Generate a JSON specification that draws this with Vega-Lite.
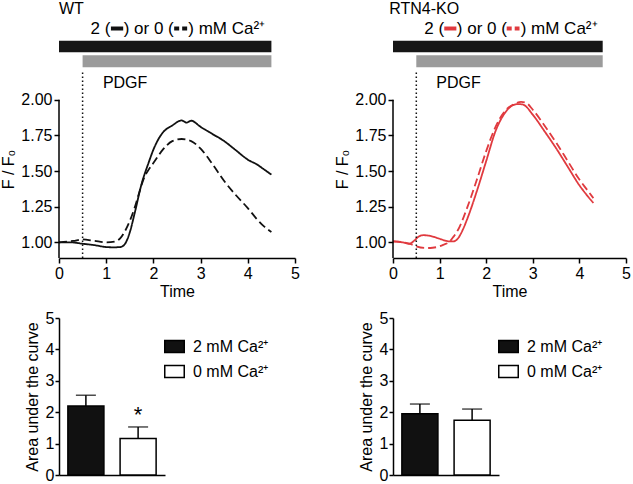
{
  "$schema": "https://vega.github.io/schema/vega-lite/v6.json",
  "background": "white",
  "padding": {"left": 0, "top": 0, "right": 0, "bottom": 3},
  "config": {
    "font": "Liberation Sans",
    "view": {"stroke": null},
    "axis": {"grid": false, "domainColor": "black", "domainWidth": 1.5, "tickColor": "black", "tickWidth": 1.5, "labelColor": "black", "titleColor": "black", "labelFontSize": 16, "titleFontSize": 16, "titleFontWeight": "normal", "labelFont": "Liberation Sans", "titleFont": "Liberation Sans", "labelOverlap": false},
    "legend": {"labelFont": "Liberation Sans"},
    "text": {"font": "Liberation Sans"}
  },
  "datasets": {
    "traces": [
      {"genotype": "WT", "calcium": "2 mM", "time": 0, "ratio": 1.0},
      {"genotype": "WT", "calcium": "2 mM", "time": 0.25, "ratio": 1.0},
      {"genotype": "WT", "calcium": "2 mM", "time": 0.5, "ratio": 0.99},
      {"genotype": "WT", "calcium": "2 mM", "time": 0.75, "ratio": 0.98},
      {"genotype": "WT", "calcium": "2 mM", "time": 1.0, "ratio": 0.967},
      {"genotype": "WT", "calcium": "2 mM", "time": 1.15, "ratio": 0.965},
      {"genotype": "WT", "calcium": "2 mM", "time": 1.3, "ratio": 0.967},
      {"genotype": "WT", "calcium": "2 mM", "time": 1.4, "ratio": 0.99},
      {"genotype": "WT", "calcium": "2 mM", "time": 1.5, "ratio": 1.07},
      {"genotype": "WT", "calcium": "2 mM", "time": 1.6, "ratio": 1.2},
      {"genotype": "WT", "calcium": "2 mM", "time": 1.75, "ratio": 1.41},
      {"genotype": "WT", "calcium": "2 mM", "time": 1.9, "ratio": 1.56},
      {"genotype": "WT", "calcium": "2 mM", "time": 2.0, "ratio": 1.65},
      {"genotype": "WT", "calcium": "2 mM", "time": 2.1, "ratio": 1.72},
      {"genotype": "WT", "calcium": "2 mM", "time": 2.2, "ratio": 1.77},
      {"genotype": "WT", "calcium": "2 mM", "time": 2.4, "ratio": 1.82},
      {"genotype": "WT", "calcium": "2 mM", "time": 2.6, "ratio": 1.855},
      {"genotype": "WT", "calcium": "2 mM", "time": 2.7, "ratio": 1.84},
      {"genotype": "WT", "calcium": "2 mM", "time": 2.8, "ratio": 1.853},
      {"genotype": "WT", "calcium": "2 mM", "time": 3.0, "ratio": 1.81},
      {"genotype": "WT", "calcium": "2 mM", "time": 3.25, "ratio": 1.76},
      {"genotype": "WT", "calcium": "2 mM", "time": 3.5, "ratio": 1.71},
      {"genotype": "WT", "calcium": "2 mM", "time": 3.75, "ratio": 1.645},
      {"genotype": "WT", "calcium": "2 mM", "time": 4.0, "ratio": 1.58},
      {"genotype": "WT", "calcium": "2 mM", "time": 4.2, "ratio": 1.545},
      {"genotype": "WT", "calcium": "2 mM", "time": 4.35, "ratio": 1.51},
      {"genotype": "WT", "calcium": "2 mM", "time": 4.5, "ratio": 1.475},
      {"genotype": "WT", "calcium": "0 mM", "time": 0, "ratio": 1.0},
      {"genotype": "WT", "calcium": "0 mM", "time": 0.3, "ratio": 1.01},
      {"genotype": "WT", "calcium": "0 mM", "time": 0.5, "ratio": 1.02},
      {"genotype": "WT", "calcium": "0 mM", "time": 0.75, "ratio": 1.01},
      {"genotype": "WT", "calcium": "0 mM", "time": 1.0, "ratio": 1.0},
      {"genotype": "WT", "calcium": "0 mM", "time": 1.2, "ratio": 1.007},
      {"genotype": "WT", "calcium": "0 mM", "time": 1.3, "ratio": 1.03},
      {"genotype": "WT", "calcium": "0 mM", "time": 1.4, "ratio": 1.08},
      {"genotype": "WT", "calcium": "0 mM", "time": 1.5, "ratio": 1.15},
      {"genotype": "WT", "calcium": "0 mM", "time": 1.6, "ratio": 1.24},
      {"genotype": "WT", "calcium": "0 mM", "time": 1.7, "ratio": 1.35},
      {"genotype": "WT", "calcium": "0 mM", "time": 1.8, "ratio": 1.45},
      {"genotype": "WT", "calcium": "0 mM", "time": 1.9, "ratio": 1.51},
      {"genotype": "WT", "calcium": "0 mM", "time": 2.0, "ratio": 1.556},
      {"genotype": "WT", "calcium": "0 mM", "time": 2.2, "ratio": 1.65},
      {"genotype": "WT", "calcium": "0 mM", "time": 2.4, "ratio": 1.71},
      {"genotype": "WT", "calcium": "0 mM", "time": 2.6, "ratio": 1.725},
      {"genotype": "WT", "calcium": "0 mM", "time": 2.8, "ratio": 1.71},
      {"genotype": "WT", "calcium": "0 mM", "time": 3.0, "ratio": 1.657},
      {"genotype": "WT", "calcium": "0 mM", "time": 3.25, "ratio": 1.55},
      {"genotype": "WT", "calcium": "0 mM", "time": 3.5, "ratio": 1.43},
      {"genotype": "WT", "calcium": "0 mM", "time": 3.75, "ratio": 1.33},
      {"genotype": "WT", "calcium": "0 mM", "time": 4.0, "ratio": 1.24},
      {"genotype": "WT", "calcium": "0 mM", "time": 4.2, "ratio": 1.16},
      {"genotype": "WT", "calcium": "0 mM", "time": 4.35, "ratio": 1.11},
      {"genotype": "WT", "calcium": "0 mM", "time": 4.5, "ratio": 1.072},
      {"genotype": "RTN4-KO", "calcium": "2 mM", "time": 0, "ratio": 1.007},
      {"genotype": "RTN4-KO", "calcium": "2 mM", "time": 0.2, "ratio": 1.0},
      {"genotype": "RTN4-KO", "calcium": "2 mM", "time": 0.35, "ratio": 0.99},
      {"genotype": "RTN4-KO", "calcium": "2 mM", "time": 0.45, "ratio": 1.01},
      {"genotype": "RTN4-KO", "calcium": "2 mM", "time": 0.55, "ratio": 1.04},
      {"genotype": "RTN4-KO", "calcium": "2 mM", "time": 0.65, "ratio": 1.05},
      {"genotype": "RTN4-KO", "calcium": "2 mM", "time": 0.8, "ratio": 1.045},
      {"genotype": "RTN4-KO", "calcium": "2 mM", "time": 1.0, "ratio": 1.025},
      {"genotype": "RTN4-KO", "calcium": "2 mM", "time": 1.2, "ratio": 1.007},
      {"genotype": "RTN4-KO", "calcium": "2 mM", "time": 1.3, "ratio": 1.007},
      {"genotype": "RTN4-KO", "calcium": "2 mM", "time": 1.4, "ratio": 1.03},
      {"genotype": "RTN4-KO", "calcium": "2 mM", "time": 1.5, "ratio": 1.09},
      {"genotype": "RTN4-KO", "calcium": "2 mM", "time": 1.6, "ratio": 1.17},
      {"genotype": "RTN4-KO", "calcium": "2 mM", "time": 1.8, "ratio": 1.36},
      {"genotype": "RTN4-KO", "calcium": "2 mM", "time": 2.0, "ratio": 1.57},
      {"genotype": "RTN4-KO", "calcium": "2 mM", "time": 2.2, "ratio": 1.78},
      {"genotype": "RTN4-KO", "calcium": "2 mM", "time": 2.4, "ratio": 1.907},
      {"genotype": "RTN4-KO", "calcium": "2 mM", "time": 2.5, "ratio": 1.945},
      {"genotype": "RTN4-KO", "calcium": "2 mM", "time": 2.6, "ratio": 1.965},
      {"genotype": "RTN4-KO", "calcium": "2 mM", "time": 2.7, "ratio": 1.97},
      {"genotype": "RTN4-KO", "calcium": "2 mM", "time": 2.8, "ratio": 1.965},
      {"genotype": "RTN4-KO", "calcium": "2 mM", "time": 3.0, "ratio": 1.895},
      {"genotype": "RTN4-KO", "calcium": "2 mM", "time": 3.25, "ratio": 1.78},
      {"genotype": "RTN4-KO", "calcium": "2 mM", "time": 3.5, "ratio": 1.66},
      {"genotype": "RTN4-KO", "calcium": "2 mM", "time": 3.75, "ratio": 1.53},
      {"genotype": "RTN4-KO", "calcium": "2 mM", "time": 4.0, "ratio": 1.4},
      {"genotype": "RTN4-KO", "calcium": "2 mM", "time": 4.15, "ratio": 1.335},
      {"genotype": "RTN4-KO", "calcium": "2 mM", "time": 4.3, "ratio": 1.276},
      {"genotype": "RTN4-KO", "calcium": "0 mM", "time": 0, "ratio": 1.007},
      {"genotype": "RTN4-KO", "calcium": "0 mM", "time": 0.3, "ratio": 0.995},
      {"genotype": "RTN4-KO", "calcium": "0 mM", "time": 0.4, "ratio": 0.985},
      {"genotype": "RTN4-KO", "calcium": "0 mM", "time": 0.5, "ratio": 0.972},
      {"genotype": "RTN4-KO", "calcium": "0 mM", "time": 0.7, "ratio": 0.96},
      {"genotype": "RTN4-KO", "calcium": "0 mM", "time": 0.85, "ratio": 0.962},
      {"genotype": "RTN4-KO", "calcium": "0 mM", "time": 1.0, "ratio": 0.972},
      {"genotype": "RTN4-KO", "calcium": "0 mM", "time": 1.1, "ratio": 0.985},
      {"genotype": "RTN4-KO", "calcium": "0 mM", "time": 1.2, "ratio": 1.0},
      {"genotype": "RTN4-KO", "calcium": "0 mM", "time": 1.3, "ratio": 1.04},
      {"genotype": "RTN4-KO", "calcium": "0 mM", "time": 1.4, "ratio": 1.09},
      {"genotype": "RTN4-KO", "calcium": "0 mM", "time": 1.6, "ratio": 1.25},
      {"genotype": "RTN4-KO", "calcium": "0 mM", "time": 1.8, "ratio": 1.44},
      {"genotype": "RTN4-KO", "calcium": "0 mM", "time": 2.0, "ratio": 1.64},
      {"genotype": "RTN4-KO", "calcium": "0 mM", "time": 2.2, "ratio": 1.81},
      {"genotype": "RTN4-KO", "calcium": "0 mM", "time": 2.4, "ratio": 1.92},
      {"genotype": "RTN4-KO", "calcium": "0 mM", "time": 2.6, "ratio": 1.97},
      {"genotype": "RTN4-KO", "calcium": "0 mM", "time": 2.75, "ratio": 1.985},
      {"genotype": "RTN4-KO", "calcium": "0 mM", "time": 2.85, "ratio": 1.98},
      {"genotype": "RTN4-KO", "calcium": "0 mM", "time": 3.0, "ratio": 1.93},
      {"genotype": "RTN4-KO", "calcium": "0 mM", "time": 3.25, "ratio": 1.82},
      {"genotype": "RTN4-KO", "calcium": "0 mM", "time": 3.5, "ratio": 1.7},
      {"genotype": "RTN4-KO", "calcium": "0 mM", "time": 3.75, "ratio": 1.57},
      {"genotype": "RTN4-KO", "calcium": "0 mM", "time": 4.0, "ratio": 1.44},
      {"genotype": "RTN4-KO", "calcium": "0 mM", "time": 4.15, "ratio": 1.375},
      {"genotype": "RTN4-KO", "calcium": "0 mM", "time": 4.3, "ratio": 1.31}
    ],
    "auc": [
      {"genotype": "WT", "calcium": "2 mM Ca²⁺", "mean": 2.2, "upper": 2.54, "sig": ""},
      {"genotype": "WT", "calcium": "0 mM Ca²⁺", "mean": 1.16, "upper": 1.53, "sig": "*"},
      {"genotype": "RTN4-KO", "calcium": "2 mM Ca²⁺", "mean": 1.95, "upper": 2.26, "sig": ""},
      {"genotype": "RTN4-KO", "calcium": "0 mM Ca²⁺", "mean": 1.74, "upper": 2.1, "sig": ""}
    ],
    "periods": [
      {"genotype": "WT", "phase": "Ca", "start": 0, "end": 4.5},
      {"genotype": "WT", "phase": "PDGF", "start": 0.5, "end": 4.5},
      {"genotype": "RTN4-KO", "phase": "Ca", "start": 0, "end": 4.5},
      {"genotype": "RTN4-KO", "phase": "PDGF", "start": 0.5, "end": 4.5}
    ],
    "notes": [
      {"genotype": "WT", "key": "title", "text": "WT"},
      {"genotype": "WT", "key": "a", "text": "2 ("},
      {"genotype": "WT", "key": "b", "text": ") or 0 ("},
      {"genotype": "WT", "key": "c", "text": ") mM Ca²⁺"},
      {"genotype": "WT", "key": "pdgf", "text": "PDGF"},
      {"genotype": "RTN4-KO", "key": "title", "text": "RTN4-KO"},
      {"genotype": "RTN4-KO", "key": "a", "text": "2 ("},
      {"genotype": "RTN4-KO", "key": "b", "text": ") or 0 ("},
      {"genotype": "RTN4-KO", "key": "c", "text": ") mM Ca²⁺"},
      {"genotype": "RTN4-KO", "key": "pdgf", "text": "PDGF"}
    ]
  },
  "columns": 2,
  "bounds": "flush",
  "spacing": {"row": 60, "column": 98},
  "resolve": {"scale": {"x": "independent", "y": "independent", "fill": "independent", "strokeDash": "independent"}},
  "concat": [
    {
      "width": 236,
      "height": 258,
      "layer": [
        {
          "data": {"name": "traces"},
          "transform": [{"filter": "datum.genotype === 'WT'"}],
          "mark": {"type": "line", "interpolate": "monotone", "strokeWidth": 1.8, "color": "#111111"},
          "encoding": {
            "x": {"field": "time", "type": "quantitative", "title": "Time", "scale": {"domain": [0, 5], "nice": false}, "axis": {"values": [0, 1, 2, 3, 4, 5], "titlePadding": 2, "tickSize": 5, "labelPadding": 2, "labelFlush": false}},
            "y": {"field": "ratio", "type": "quantitative", "title": "F / F₀", "scale": {"domain": [0.89, 2.7], "nice": false, "zero": false}, "axis": {"values": [1, 1.25, 1.5, 1.75, 2], "format": ".2f", "domain": false, "titleY": 169, "titlePadding": 4, "tickSize": 5, "labelPadding": 2, "titleColor": "black"}},
            "strokeDash": {"field": "calcium", "type": "nominal", "scale": {"domain": ["2 mM", "0 mM"], "range": [[1, 0], [8, 4]]}, "legend": null}
          }
        },
        {
          "data": {"name": "notes"},
          "transform": [{"filter": "datum.genotype === 'WT' && datum.key === 'title'"}],
          "mark": {"type": "rule", "color": "black", "strokeWidth": 1.5},
          "encoding": {"x": {"datum": 0}, "y": {"datum": 0.89}, "y2": {"datum": 2.0}}
        },
        {
          "data": {"name": "periods"},
          "transform": [{"filter": "datum.genotype === 'WT' && datum.phase === 'Ca'"}],
          "mark": {"type": "rect", "color": "#161616"},
          "encoding": {"x": {"field": "start", "type": "quantitative", "title": "Time"}, "x2": {"field": "end"}, "y": {"datum": 2.333}, "y2": {"datum": 2.414}}
        },
        {
          "data": {"name": "periods"},
          "transform": [{"filter": "datum.genotype === 'WT' && datum.phase === 'PDGF'"}],
          "mark": {"type": "rect", "color": "#9b9b9b"},
          "encoding": {"x": {"field": "start", "type": "quantitative", "title": "Time"}, "x2": {"field": "end"}, "y": {"datum": 2.229}, "y2": {"datum": 2.312}}
        },
        {
          "data": {"name": "periods"},
          "transform": [{"filter": "datum.genotype === 'WT' && datum.phase === 'PDGF'"}],
          "mark": {"type": "rule", "color": "#111111", "strokeWidth": 1.5, "strokeDash": [1.5, 2.5]},
          "encoding": {"x": {"field": "start", "type": "quantitative", "title": "Time"}, "y": {"datum": 0.89}, "y2": {"datum": 2.2}}
        },
        {
          "data": {"name": "notes"},
          "transform": [{"filter": "datum.genotype === 'WT' && datum.key === 'title'"}],
          "mark": {"type": "text", "align": "left", "baseline": "middle", "fontSize": 16, "color": "black"},
          "encoding": {"x": {"datum": 0}, "y": {"datum": 2.635}, "text": {"field": "text"}}
        },
        {
          "data": {"name": "notes"},
          "transform": [{"filter": "datum.genotype === 'WT' && datum.key === 'a'"}],
          "mark": {"type": "text", "align": "left", "baseline": "middle", "fontSize": 17, "color": "black"},
          "encoding": {"x": {"datum": 0.67}, "y": {"datum": 2.5}, "text": {"field": "text"}}
        },
        {
          "data": {"name": "notes"},
          "transform": [{"filter": "datum.genotype === 'WT' && datum.key === 'b'"}],
          "mark": {"type": "text", "align": "left", "baseline": "middle", "fontSize": 17, "color": "black"},
          "encoding": {"x": {"datum": 1.37}, "y": {"datum": 2.5}, "text": {"field": "text"}}
        },
        {
          "data": {"name": "notes"},
          "transform": [{"filter": "datum.genotype === 'WT' && datum.key === 'c'"}],
          "mark": {"type": "text", "align": "left", "baseline": "middle", "fontSize": 17, "color": "black"},
          "encoding": {"x": {"datum": 2.74}, "y": {"datum": 2.5}, "text": {"field": "text"}}
        },
        {
          "data": {"name": "notes"},
          "transform": [{"filter": "datum.genotype === 'WT' && datum.key === 'a'"}],
          "mark": {"type": "rule", "color": "#111111", "strokeWidth": 4},
          "encoding": {"x": {"datum": 1.1}, "x2": {"datum": 1.36}, "y": {"datum": 2.5}}
        },
        {
          "data": {"name": "notes"},
          "transform": [{"filter": "datum.genotype === 'WT' && datum.key === 'b'"}],
          "mark": {"type": "rule", "color": "#111111", "strokeWidth": 4, "strokeDash": [5, 3]},
          "encoding": {"x": {"datum": 2.44}, "x2": {"datum": 2.715}, "y": {"datum": 2.5}}
        },
        {
          "data": {"name": "notes"},
          "transform": [{"filter": "datum.genotype === 'WT' && datum.key === 'pdgf'"}],
          "mark": {"type": "text", "align": "left", "baseline": "middle", "fontSize": 16, "color": "black"},
          "encoding": {"x": {"datum": 0.93}, "y": {"datum": 2.117}, "text": {"field": "text"}}
        }
      ]
    },
    {
      "width": 233,
      "height": 258,
      "layer": [
        {
          "data": {"name": "traces"},
          "transform": [{"filter": "datum.genotype === 'RTN4-KO'"}],
          "mark": {"type": "line", "interpolate": "monotone", "strokeWidth": 1.8, "color": "#e03a3f"},
          "encoding": {
            "x": {"field": "time", "type": "quantitative", "title": "Time", "scale": {"domain": [0, 5], "nice": false}, "axis": {"values": [0, 1, 2, 3, 4, 5], "titlePadding": 2, "tickSize": 5, "labelPadding": 2, "labelFlush": false}},
            "y": {"field": "ratio", "type": "quantitative", "title": "F / F₀", "scale": {"domain": [0.89, 2.7], "nice": false, "zero": false}, "axis": {"values": [1, 1.25, 1.5, 1.75, 2], "format": ".2f", "domain": false, "titleY": 169, "titlePadding": 4, "tickSize": 5, "labelPadding": 2, "titleColor": "black"}},
            "strokeDash": {"field": "calcium", "type": "nominal", "scale": {"domain": ["2 mM", "0 mM"], "range": [[1, 0], [8, 4]]}, "legend": null}
          }
        },
        {
          "data": {"name": "notes"},
          "transform": [{"filter": "datum.genotype === 'RTN4-KO' && datum.key === 'title'"}],
          "mark": {"type": "rule", "color": "black", "strokeWidth": 1.5},
          "encoding": {"x": {"datum": 0}, "y": {"datum": 0.89}, "y2": {"datum": 2.0}}
        },
        {
          "data": {"name": "periods"},
          "transform": [{"filter": "datum.genotype === 'RTN4-KO' && datum.phase === 'Ca'"}],
          "mark": {"type": "rect", "color": "#161616"},
          "encoding": {"x": {"field": "start", "type": "quantitative", "title": "Time"}, "x2": {"field": "end"}, "y": {"datum": 2.333}, "y2": {"datum": 2.414}}
        },
        {
          "data": {"name": "periods"},
          "transform": [{"filter": "datum.genotype === 'RTN4-KO' && datum.phase === 'PDGF'"}],
          "mark": {"type": "rect", "color": "#9b9b9b"},
          "encoding": {"x": {"field": "start", "type": "quantitative", "title": "Time"}, "x2": {"field": "end"}, "y": {"datum": 2.229}, "y2": {"datum": 2.312}}
        },
        {
          "data": {"name": "periods"},
          "transform": [{"filter": "datum.genotype === 'RTN4-KO' && datum.phase === 'PDGF'"}],
          "mark": {"type": "rule", "color": "#111111", "strokeWidth": 1.5, "strokeDash": [1.5, 2.5]},
          "encoding": {"x": {"field": "start", "type": "quantitative", "title": "Time"}, "y": {"datum": 0.89}, "y2": {"datum": 2.2}}
        },
        {
          "data": {"name": "notes"},
          "transform": [{"filter": "datum.genotype === 'RTN4-KO' && datum.key === 'title'"}],
          "mark": {"type": "text", "align": "left", "baseline": "middle", "fontSize": 16, "color": "black"},
          "encoding": {"x": {"datum": -0.08}, "y": {"datum": 2.635}, "text": {"field": "text"}}
        },
        {
          "data": {"name": "notes"},
          "transform": [{"filter": "datum.genotype === 'RTN4-KO' && datum.key === 'a'"}],
          "mark": {"type": "text", "align": "left", "baseline": "middle", "fontSize": 17, "color": "black"},
          "encoding": {"x": {"datum": 0.67}, "y": {"datum": 2.5}, "text": {"field": "text"}}
        },
        {
          "data": {"name": "notes"},
          "transform": [{"filter": "datum.genotype === 'RTN4-KO' && datum.key === 'b'"}],
          "mark": {"type": "text", "align": "left", "baseline": "middle", "fontSize": 17, "color": "black"},
          "encoding": {"x": {"datum": 1.37}, "y": {"datum": 2.5}, "text": {"field": "text"}}
        },
        {
          "data": {"name": "notes"},
          "transform": [{"filter": "datum.genotype === 'RTN4-KO' && datum.key === 'c'"}],
          "mark": {"type": "text", "align": "left", "baseline": "middle", "fontSize": 17, "color": "black"},
          "encoding": {"x": {"datum": 2.74}, "y": {"datum": 2.5}, "text": {"field": "text"}}
        },
        {
          "data": {"name": "notes"},
          "transform": [{"filter": "datum.genotype === 'RTN4-KO' && datum.key === 'a'"}],
          "mark": {"type": "rule", "color": "#e03a3f", "strokeWidth": 4},
          "encoding": {"x": {"datum": 1.1}, "x2": {"datum": 1.36}, "y": {"datum": 2.5}}
        },
        {
          "data": {"name": "notes"},
          "transform": [{"filter": "datum.genotype === 'RTN4-KO' && datum.key === 'b'"}],
          "mark": {"type": "rule", "color": "#e03a3f", "strokeWidth": 4, "strokeDash": [5, 3]},
          "encoding": {"x": {"datum": 2.44}, "x2": {"datum": 2.715}, "y": {"datum": 2.5}}
        },
        {
          "data": {"name": "notes"},
          "transform": [{"filter": "datum.genotype === 'RTN4-KO' && datum.key === 'pdgf'"}],
          "mark": {"type": "text", "align": "left", "baseline": "middle", "fontSize": 16, "color": "black"},
          "encoding": {"x": {"datum": 0.93}, "y": {"datum": 2.117}, "text": {"field": "text"}}
        }
      ]
    },
    {
      "width": 106,
      "height": 157,
      "data": {"name": "auc"},
      "transform": [{"filter": "datum.genotype === 'WT'"}],
      "encoding": {
        "x": {"field": "calcium", "type": "nominal", "title": null, "scale": {"domain": ["2 mM Ca²⁺", "0 mM Ca²⁺"], "paddingInner": 0.31, "paddingOuter": 0.17}, "axis": {"labels": false, "ticks": false}}
      },
      "layer": [
        {
          "mark": {"type": "bar", "stroke": "black", "strokeWidth": 1.5},
          "encoding": {
            "y": {"field": "mean", "type": "quantitative", "title": "Area under the curve", "scale": {"domain": [0, 5], "nice": false}, "axis": {"values": [0, 1, 2, 3, 4, 5], "tickSize": 4, "labelPadding": 1, "titlePadding": 5, "labelOverlap": false}},
            "fill": {"field": "calcium", "type": "nominal", "scale": {"domain": ["2 mM Ca²⁺", "0 mM Ca²⁺"], "range": ["#111111", "#ffffff"]}, "legend": {"orient": "none", "legendX": 105, "legendY": 18, "title": null, "symbolType": "M-1,-0.62H1V0.62H-1Z", "symbolSize": 380, "symbolStrokeColor": "black", "symbolStrokeWidth": 1.5, "symbolOpacity": 1, "labelFontSize": 16, "labelColor": "black", "labelOffset": 8, "rowPadding": 5, "padding": 0}}
          }
        },
        {
          "mark": {"type": "rule", "color": "black", "strokeWidth": 1.5},
          "encoding": {"y": {"field": "mean", "type": "quantitative", "title": "Area under the curve", "axis": {"values": [0, 1, 2, 3, 4, 5], "tickSize": 4, "labelPadding": 1, "titlePadding": 5, "labelOverlap": false}}, "y2": {"field": "upper"}}
        },
        {
          "mark": {"type": "tick", "color": "black", "size": 20, "thickness": 1.5},
          "encoding": {"y": {"field": "upper", "type": "quantitative", "title": "Area under the curve", "axis": {"values": [0, 1, 2, 3, 4, 5], "tickSize": 4, "labelPadding": 1, "titlePadding": 5, "labelOverlap": false}}}
        },
        {
          "transform": [{"filter": "datum.sig !== ''"}],
          "mark": {"type": "text", "baseline": "bottom", "fontSize": 22, "color": "black"},
          "encoding": {"y": {"field": "upper", "type": "quantitative", "title": "Area under the curve", "axis": {"values": [0, 1, 2, 3, 4, 5], "tickSize": 4, "labelPadding": 1, "titlePadding": 5, "labelOverlap": false}}, "text": {"field": "sig"}}
        }
      ]
    },
    {
      "width": 106,
      "height": 157,
      "data": {"name": "auc"},
      "transform": [{"filter": "datum.genotype === 'RTN4-KO'"}],
      "encoding": {
        "x": {"field": "calcium", "type": "nominal", "title": null, "scale": {"domain": ["2 mM Ca²⁺", "0 mM Ca²⁺"], "paddingInner": 0.31, "paddingOuter": 0.17}, "axis": {"labels": false, "ticks": false}}
      },
      "layer": [
        {
          "mark": {"type": "bar", "stroke": "black", "strokeWidth": 1.5},
          "encoding": {
            "y": {"field": "mean", "type": "quantitative", "title": "Area under the curve", "scale": {"domain": [0, 5], "nice": false}, "axis": {"values": [0, 1, 2, 3, 4, 5], "tickSize": 4, "labelPadding": 1, "titlePadding": 5, "labelOverlap": false}},
            "fill": {"field": "calcium", "type": "nominal", "scale": {"domain": ["2 mM Ca²⁺", "0 mM Ca²⁺"], "range": ["#111111", "#ffffff"]}, "legend": {"orient": "none", "legendX": 105, "legendY": 18, "title": null, "symbolType": "M-1,-0.62H1V0.62H-1Z", "symbolSize": 380, "symbolStrokeColor": "black", "symbolStrokeWidth": 1.5, "symbolOpacity": 1, "labelFontSize": 16, "labelColor": "black", "labelOffset": 8, "rowPadding": 5, "padding": 0}}
          }
        },
        {
          "mark": {"type": "rule", "color": "black", "strokeWidth": 1.5},
          "encoding": {"y": {"field": "mean", "type": "quantitative", "title": "Area under the curve", "axis": {"values": [0, 1, 2, 3, 4, 5], "tickSize": 4, "labelPadding": 1, "titlePadding": 5, "labelOverlap": false}}, "y2": {"field": "upper"}}
        },
        {
          "mark": {"type": "tick", "color": "black", "size": 20, "thickness": 1.5},
          "encoding": {"y": {"field": "upper", "type": "quantitative", "title": "Area under the curve", "axis": {"values": [0, 1, 2, 3, 4, 5], "tickSize": 4, "labelPadding": 1, "titlePadding": 5, "labelOverlap": false}}}
        }
      ]
    }
  ]
}
